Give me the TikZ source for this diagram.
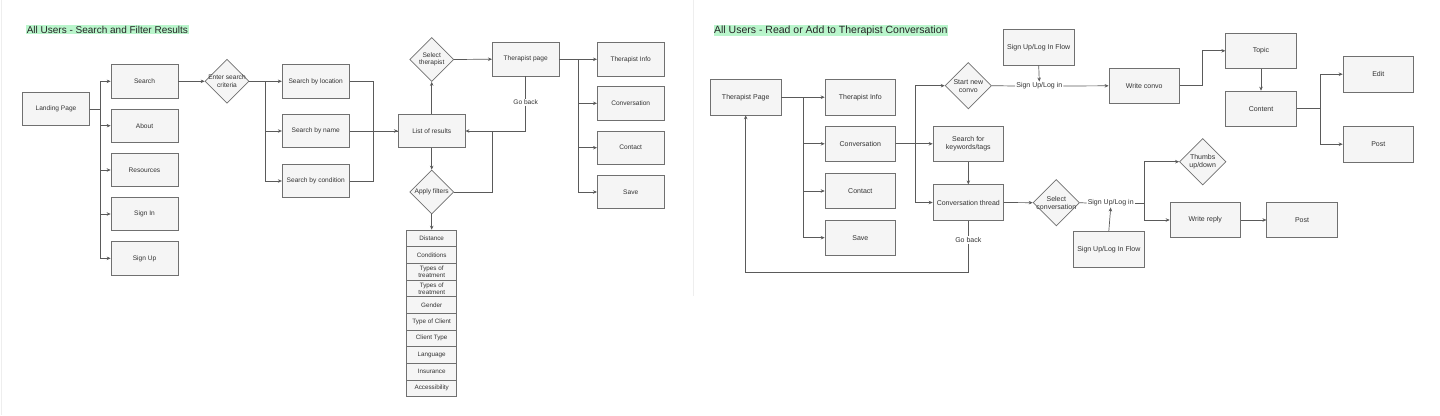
\documentclass[tikz,border=0pt]{standalone}
\usepackage{fontspec}
\setmainfont{Liberation Sans}
\usetikzlibrary{shapes.geometric,arrows.meta}
\definecolor{boxfill}{HTML}{F5F5F5}
\definecolor{boxdraw}{HTML}{707070}
\definecolor{linec}{HTML}{5A5A5A}
\definecolor{txt}{HTML}{333333}
\definecolor{hl}{HTML}{B9F5CB}
\definecolor{sep}{HTML}{EEEEEE}
\begin{document}
\begin{tikzpicture}[x=1pt,y=-1pt,
  box/.style={draw=boxdraw, fill=boxfill, line width=0.7pt, minimum width=67pt, minimum height=33.5pt, inner sep=1pt, font=\fontsize{6.6}{7.5}\selectfont, text=txt, align=center},
  rbox/.style={box, minimum width=70.5pt, minimum height=35.5pt, font=\fontsize{7}{8}\selectfont},
  dia/.style={diamond, draw=boxdraw, fill=boxfill, line width=0.7pt, minimum width=44pt, minimum height=44pt, inner sep=0pt, aspect=1},
  rdia/.style={dia, minimum width=46.5pt, minimum height=46.5pt},
  lbl/.style={font=\fontsize{6.6}{7.5}\selectfont, text=txt, align=center, inner sep=0pt},
  rlbl/.style={lbl, font=\fontsize{7}{8}\selectfont},
  flt/.style={draw=boxdraw, fill=boxfill, line width=0.6pt, minimum width=50pt, minimum height=16.67pt, inner sep=0pt, font=\fontsize{6.3}{7}\selectfont, text=txt, align=center},
  gb/.style={fill=white, inner sep=1pt, font=\fontsize{6.6}{7.5}\selectfont, text=txt},
  rgb/.style={gb, font=\fontsize{7}{8}\selectfont},
  conn/.style={draw=linec, line width=0.7pt},
  arr/.style={conn, -{Stealth[length=4pt,width=3.5pt]}},
  title/.style={fill=hl, inner sep=0.6pt, anchor=west, text=black!85}
]
\useasboundingbox (0,0) rectangle (1440,415);
\draw[sep, line width=0.8pt] (1.5,0) -- (1.5,415);
\draw[sep, line width=0.8pt] (693,0) -- (693,296);

% ---------------- LEFT ----------------
\node[title, font=\fontsize{10}{12}\selectfont] (t1) at (26,29.5) {All Users - Search and Filter Results};

\node[box, minimum width=66.5pt] (lp) at (56,109) {Landing Page};
\node[box] (search) at (144.5,81.3) {Search};
\node[box] (about) at (144.5,125.7) {About};
\node[box] (res) at (144.5,170) {Resources};
\node[box] (signin) at (144.5,214) {Sign In};
\node[box] (signup) at (144.5,258.3) {Sign Up};

\foreach \n in {search,about,res,signin,signup}
  \draw[arr] (lp.east) -- (100,109) |- (\n.west);

\node[dia, label={[lbl]center:{Enter search\\criteria}}] (esc) at (227,81.3) {};
\draw[arr] (search.east) -- (esc.west);

\node[box] (sloc) at (315.7,81.3) {Search by location};
\node[box] (sname) at (315.7,131) {Search by name};
\node[box] (scond) at (315.7,181) {Search by condition};
\foreach \n in {sloc,sname,scond}
  \draw[arr] (esc.east) -- (265.7,81.3) |- (\n.west);

\node[box, minimum width=66.7pt] (lr) at (431.7,131) {List of results};
\draw[arr] (sname.east) -- (lr.west);
\draw[conn] (sloc.east) -- (373.3,81.3) |- (lr.west);
\draw[conn] (scond.east) -- (373.3,181) |- (lr.west);

\node[dia, label={[lbl]center:{Select\\therapist}}] (selt) at (431.7,59.5) {};
\draw[arr] (lr.north) -- (selt.south);

\node[box, minimum width=66.7pt] (tp) at (525.7,59.2) {Therapist page};
\draw[arr] (selt.east) -- (tp.west);

\node[gb] (gb1) at (525.7,102.3) {Go back};
\draw[conn] (tp.south) -- (gb1.north);
\draw[arr] (gb1.south) |- (lr.east);

\node[dia, label={[lbl]center:{Apply filters}}] (af) at (431.7,192) {};
\draw[arr] (lr.south) -- (af.north);
\draw[conn] (af.east) -- (492.7,192) -- (492.7,131);

\node[box, minimum width=66.7pt] (ti) at (630.7,59.3) {Therapist Info};
\node[box, minimum width=66.7pt] (conv) at (630.7,103.3) {Conversation};
\node[box, minimum width=66.7pt] (cont) at (630.7,147.7) {Contact};
\node[box, minimum width=66.7pt] (save) at (630.7,192) {Save};
\foreach \n in {ti,conv,cont,save}
  \draw[arr] (tp.east) -- (578.3,59.2) |- (\n.west);

\node[flt] (f1) at (431.7,238.33) {Distance};
\node[flt] (f2) at (431.7,255) {Conditions};
\node[flt] (f3) at (431.7,271.67) {Types of\\treatment};
\node[flt] (f4) at (431.7,288.33) {Types of\\treatment};
\node[flt] (f5) at (431.7,305) {Gender};
\node[flt] (f6) at (431.7,321.67) {Type of Client};
\node[flt] (f7) at (431.7,338.33) {Client Type};
\node[flt] (f8) at (431.7,355) {Language};
\node[flt] (f9) at (431.7,371.67) {Insurance};
\node[flt] (f10) at (431.7,388.33) {Accessibility};
\draw[arr] (af.south) -- (f1.north);

% ---------------- RIGHT ----------------
\node[title, font=\fontsize{10.5}{12.5}\selectfont] (t2) at (713.3,30.8) {All Users - Read or Add to Therapist Conversation};

\node[rbox] (rtp) at (745.7,97.2) {Therapist Page};
\node[rbox] (rti) at (860.3,97.2) {Therapist Info};
\node[rbox] (rconv) at (860.3,143.8) {Conversation};
\node[rbox] (rcont) at (860.3,191) {Contact};
\node[rbox] (rsave) at (860.3,237.7) {Save};
\foreach \n in {rti,rconv,rcont,rsave}
  \draw[arr] (rtp.east) -- (803.3,97.2) |- (\n.west);

\node[rdia, label={[rlbl]center:{Start new\\convo}}] (snc) at (968.3,85.7) {};
\node[rbox] (skw) at (968.3,143.8) {Search for\\keywords/tags};
\node[rbox] (cth) at (968.3,202.5) {Conversation thread};
\draw[arr] (rconv.east) -- (915,143.8) |- (snc.west);
\draw[arr] (rconv.east) -- (skw.west);
\draw[arr] (rconv.east) -- (915,143.8) |- (cth.west);
\draw[arr] (skw.south) -- (cth.north);

\node[rgb] (gb2) at (968.3,240) {Go back};
\draw[conn] (cth.south) -- (gb2.north);
\draw[arr] (gb2.south) -- (968.3,272.7) -| (rtp.south);

\node[rbox] (flow1) at (1038.7,47.5) {Sign Up/Log In Flow};
\node[rlbl, fill=white, inner sep=1pt] (sul1) at (1039.3,86) {Sign Up/Log in};
\node[rbox] (wc) at (1144.2,85.8) {Write convo};
\draw[conn] (snc.east) -- (sul1.west);
\draw[arr] (sul1.east) -- (wc.west);
\draw[arr] (flow1.south) -- (sul1.north);

\node[rbox] (topic) at (1261,50.8) {Topic};
\node[rbox] (content) at (1261,108.8) {Content};
\draw[arr] (wc.east) -- (1202.7,85.8) |- (topic.west);
\draw[arr] (topic.south) -- (content.north);

\node[rbox] (edit) at (1378.3,74.2) {Edit};
\node[rbox] (post1) at (1378.3,144.2) {Post};
\draw[arr] (content.east) -- (1320,108.8) |- (edit.west);
\draw[arr] (content.east) -- (1320,108.8) |- (post1.west);

\node[rdia, label={[rlbl]center:{Select\\conversation}}] (selc) at (1056.3,202.7) {};
\draw[arr] (cth.east) -- (selc.west);

\node[rlbl, fill=white, inner sep=1pt] (sul2) at (1110.7,203) {Sign Up/Log in};
\draw[conn] (selc.east) -- (sul2.west);
\node[rbox] (flow2) at (1108.8,249.2) {Sign Up/Log In Flow};
\draw[arr] (flow2.north) -- (sul2.south);

\node[rdia, label={[rlbl]center:{Thumbs\\up/down}}] (thumbs) at (1202.7,161.7) {};
\node[rbox] (wr) at (1205.3,220) {Write reply};
\node[rbox] (post2) at (1302,220) {Post};
\draw[arr] (sul2.east) -- (1144,203) |- (thumbs.west);
\draw[arr] (sul2.east) -- (1144,203) |- (wr.west);
\draw[arr] (wr.east) -- (post2.west);
\end{tikzpicture}
\end{document}
